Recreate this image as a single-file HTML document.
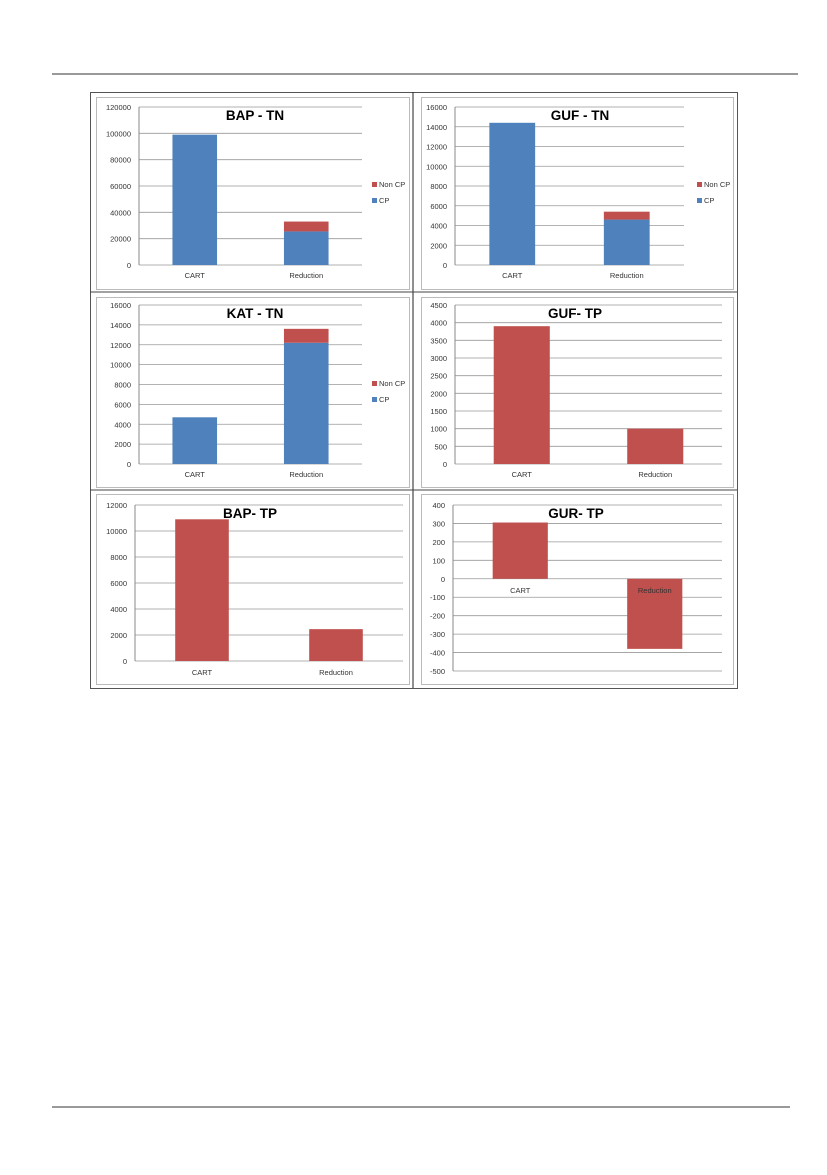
<!DOCTYPE html>
<html><head><meta charset="utf-8"><style>
html,body{margin:0;padding:0;background:#fff;}
body{width:827px;height:1170px;overflow:hidden;position:relative;font-family:"Liberation Sans",sans-serif;}
</style></head>
<body>
<svg id="page" width="827" height="1170" xmlns="http://www.w3.org/2000/svg">
<line x1="52" y1="74" x2="798" y2="74" stroke="#333" stroke-width="1"/>
<line x1="52" y1="1107" x2="790" y2="1107" stroke="#333" stroke-width="1"/>
<rect x="90.5" y="92.5" width="647" height="596" fill="none" stroke="#555"/>
<line x1="413" y1="92" x2="413" y2="688" stroke="#222"/>
<line x1="90" y1="292" x2="737" y2="292" stroke="#444"/>
<line x1="90" y1="490" x2="737" y2="490" stroke="#444"/>
<g id="charts"></g>
</svg>
<script>
// ---- Data ----
const categories = ["CART", "Reduction"];
const bapTnCP = [99000, 25500];
const bapTnNonCP = [0, 7500];
const bapTnTicks = [0, 20000, 40000, 60000, 80000, 100000, 120000];
const gufTnCP = [14400, 4600];
const gufTnNonCP = [0, 800];
const gufTnTicks = [0, 2000, 4000, 6000, 8000, 10000, 12000, 14000, 16000];
const katTnCP = [4700, 12200];
const katTnNonCP = [0, 1400];
const katTnTicks = [0, 2000, 4000, 6000, 8000, 10000, 12000, 14000, 16000];
const gufTpValues = [3900, 1000];
const gufTpTicks = [0, 500, 1000, 1500, 2000, 2500, 3000, 3500, 4000, 4500];
const bapTpValues = [10900, 2450];
const bapTpTicks = [0, 2000, 4000, 6000, 8000, 10000, 12000];
const gurTpValues = [305, -380];
const gurTpTicks = [-500, -400, -300, -200, -100, 0, 100, 200, 300, 400];
const legendLabels = ["Non CP", "CP"];

const NS = "http://www.w3.org/2000/svg";
const root = document.getElementById("charts");
function mk(tag, attrs, parent) {
  const e = document.createElementNS(NS, tag);
  for (const k in attrs) e.setAttribute(k, attrs[k]);
  (parent || root).appendChild(e);
  return e;
}
const BLUE = "#4f81bd", RED = "#c0504d";

function chart(cfg) {
  const g = mk("g", {});
  
  
  const fr = mk("rect", {x: cfg.fx + .5, y: cfg.fy + .5, width: cfg.fw, height: cfg.fh, fill: "none", stroke: "#bbb"}, g);
  
  
  const ticks = cfg.ticks;
  const tmin = ticks[0], tmax = ticks[ticks.length - 1];
  const y = v => cfg.bottom - (v - tmin) / (tmax - tmin) * (cfg.bottom - cfg.top);
  ticks.forEach(t => {
    const ln = mk("line", {x1: cfg.ax, x2: cfg.right, y1: y(t), y2: y(t), stroke: "#999", "stroke-width": 0.8}, g);
    
    
    const tx = mk("text", {x: cfg.ax - 8, y: y(t) + 3, "text-anchor": "end", "font-size": 7.5, fill: "#333"}, g);
    tx.textContent = t;
    
    
  });
  const ax = mk("line", {x1: cfg.ax, x2: cfg.ax, y1: cfg.top, y2: cfg.bottom, stroke: "#888"}, g);
  
  
  const bw = (cfg.right - cfg.ax) / categories.length;
  const barW = bw * cfg.barFrac;
  categories.forEach((c, i) => {
    const cx = cfg.ax + bw * (i + 0.5);
    let base = 0;
    cfg.series.forEach(s => {
      const v = s.values[i];
      if (!v) return;
      const y1 = y(base), y2 = y(base + v);
      const r = mk("rect", {x: cx - barW / 2, y: Math.min(y1, y2), width: barW, height: Math.abs(y1 - y2), fill: s.color}, g);
      
      
      base += v;
    });
    const lb = mk("text", {x: cx, y: cfg.labelY, "text-anchor": "middle", "font-size": 7.5, fill: "#333"}, g);
    lb.textContent = c;
    
    
  });
  const t = mk("text", {x: cfg.titleX, y: cfg.top + 13, "text-anchor": "middle", "font-size": 13.5, "font-weight": "bold", fill: "#000"}, g);
  t.textContent = cfg.title;
  
  
  if (cfg.legendX) {
    [[RED, legendLabels[0], 0], [BLUE, legendLabels[1], 16]].forEach(([col, lab, dy]) => {
      const sq = mk("rect", {x: cfg.legendX, y: cfg.legendY + dy - 5, width: 5, height: 5, fill: col}, g);
      
      
      const lt = mk("text", {x: cfg.legendX + 7, y: cfg.legendY + dy, "font-size": 7.5, fill: "#333"}, g);
      lt.textContent = lab;
      
      
    });
  }
}

chart({name: "chart-bap-tn", title: "BAP - TN", fx: 96, fy: 97, fw: 313, fh: 192, ax: 139, right: 362, top: 107, bottom: 265, labelY: 278, titleX: 255, barFrac: 0.4, ticks: bapTnTicks, legendX: 372, legendY: 187,
  series: [{key: "cp", values: bapTnCP, color: BLUE}, {key: "noncp", values: bapTnNonCP, color: RED}]});
chart({name: "chart-guf-tn", title: "GUF - TN", fx: 421, fy: 97, fw: 312, fh: 192, ax: 455, right: 684, top: 107, bottom: 265, labelY: 278, titleX: 580, barFrac: 0.4, ticks: gufTnTicks, legendX: 697, legendY: 187,
  series: [{key: "cp", values: gufTnCP, color: BLUE}, {key: "noncp", values: gufTnNonCP, color: RED}]});
chart({name: "chart-kat-tn", title: "KAT - TN", fx: 96, fy: 297, fw: 313, fh: 190, ax: 139, right: 362, top: 305, bottom: 464, labelY: 477, titleX: 255, barFrac: 0.4, ticks: katTnTicks, legendX: 372, legendY: 386,
  series: [{key: "cp", values: katTnCP, color: BLUE}, {key: "noncp", values: katTnNonCP, color: RED}]});
chart({name: "chart-guf-tp", title: "GUF- TP", fx: 421, fy: 297, fw: 312, fh: 190, ax: 455, right: 722, top: 305, bottom: 464, labelY: 477, titleX: 575, barFrac: 0.42, ticks: gufTpTicks,
  series: [{key: "tp", values: gufTpValues, color: RED}]});
chart({name: "chart-bap-tp", title: "BAP- TP", fx: 96, fy: 494, fw: 313, fh: 190, ax: 135, right: 403, top: 505, bottom: 661, labelY: 675, titleX: 250, barFrac: 0.4, ticks: bapTpTicks,
  series: [{key: "tp", values: bapTpValues, color: RED}]});
chart({name: "chart-gur-tp", title: "GUR- TP", fx: 421, fy: 494, fw: 312, fh: 190, ax: 453, right: 722, top: 505, bottom: 671, labelY: 593, titleX: 576, barFrac: 0.41, ticks: gurTpTicks,
  series: [{key: "tp", values: gurTpValues, color: RED}]});
</script>
</body></html>
